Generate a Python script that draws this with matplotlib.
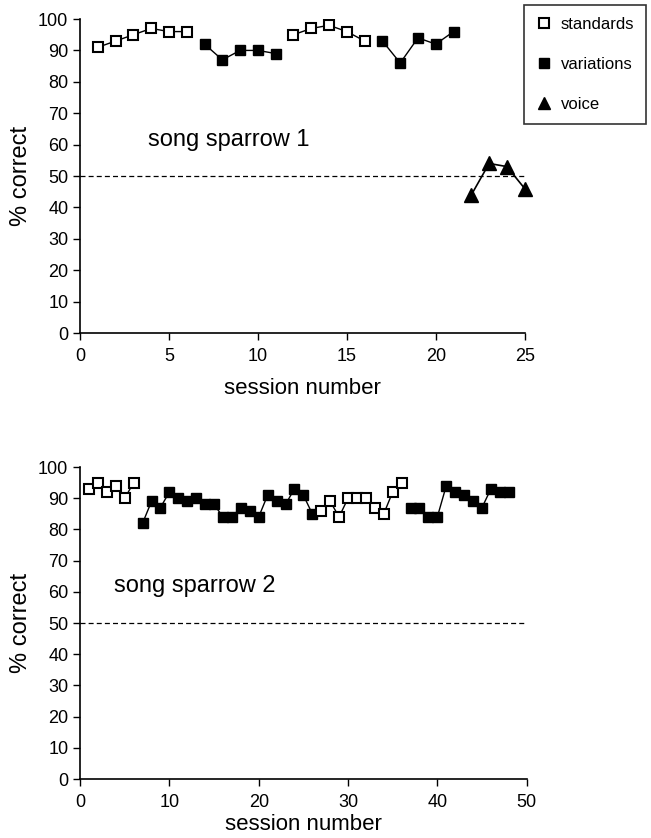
import matplotlib
matplotlib.use("Agg")
import matplotlib.pyplot as plt
from matplotlib.lines import Line2D

plt.rcParams["font.family"] = ["Liberation Sans", "DejaVu Sans"]

# song sparrow 1
s1_std_a_x = [1, 2, 3, 4, 5, 6]
s1_std_a_y = [91, 93, 95, 97, 96, 96]
s1_var_a_x = [7, 8, 9, 10, 11]
s1_var_a_y = [92, 87, 90, 90, 89]
s1_std_b_x = [12, 13, 14, 15, 16]
s1_std_b_y = [95, 97, 98, 96, 93]
s1_var_b_x = [17, 18, 19, 20, 21]
s1_var_b_y = [93, 86, 94, 92, 96]
s1_voice_x = [22, 23, 24, 25]
s1_voice_y = [44, 54, 53, 46]

# song sparrow 2
s2_std_a_x = [1, 2, 3, 4, 5, 6]
s2_std_a_y = [93, 95, 92, 94, 90, 95]
s2_var_a_x = list(range(7, 27))
s2_var_a_y = [82, 89, 87, 92, 90, 89, 90, 88, 88, 84,
              84, 87, 86, 84, 91, 89, 88, 93, 91, 85]
s2_std_b_x = list(range(27, 37))
s2_std_b_y = [86, 89, 84, 90, 90, 90, 87, 85, 92, 95]
s2_var_b_x = list(range(37, 49))
s2_var_b_y = [87, 87, 84, 84, 94, 92, 91, 89, 87, 93, 92, 92]

CHANCE = 50


def std_line(ax, x, y):
    ax.plot(x, y, color="black", lw=1, marker="s", ms=6.5,
            mfc="white", mec="black", mew=1.5, zorder=3)


def var_line(ax, x, y):
    ax.plot(x, y, color="black", lw=1, marker="s", ms=7,
            mfc="black", mec="black", zorder=3)


def style_axes(ax, xmax, xstep, xpad):
    ax.set_xlim(0, xmax)
    ax.set_ylim(0, 100)
    ax.set_xticks(range(0, xmax + 1, xstep))
    ax.set_yticks(range(0, 101, 10))
    for side in ("top", "right"):
        ax.spines[side].set_visible(False)
    ax.spines["left"].set_linewidth(1.2)
    ax.spines["bottom"].set_linewidth(1.2)
    ax.tick_params(direction="out", length=5, width=1, labelsize=13)
    ax.tick_params(axis="x", pad=6)
    ax.set_xlabel("session number", fontsize=16, labelpad=xpad)
    ax.set_ylabel("% correct", fontsize=17, labelpad=4)
    ax.plot([0, xmax], [CHANCE, CHANCE], color="black", lw=0.9,
            ls=(0, (4, 2.5)), zorder=2)


fig = plt.figure(figsize=(6.51, 8.38), dpi=100)
ax1 = fig.add_axes([0.123, 0.6026, 0.683, 0.3747])
ax2 = fig.add_axes([0.123, 0.0704, 0.686, 0.3723])

style_axes(ax1, 25, 5, 9)
std_line(ax1, s1_std_a_x, s1_std_a_y)
var_line(ax1, s1_var_a_x, s1_var_a_y)
std_line(ax1, s1_std_b_x, s1_std_b_y)
var_line(ax1, s1_var_b_x, s1_var_b_y)
ax1.plot(s1_voice_x, s1_voice_y, color="black", lw=1.2, marker="^", ms=10,
         mfc="black", mec="black", zorder=3, clip_on=False)
ax1.text(3.8, 61.5, "song sparrow 1", fontsize=17, va="center", ha="left")

handles = [
    Line2D([], [], ls="none", marker="s", ms=7, mfc="white", mec="black", mew=1.5),
    Line2D([], [], ls="none", marker="s", ms=7, mfc="black", mec="black"),
    Line2D([], [], ls="none", marker="^", ms=9, mfc="black", mec="black"),
]
leg = ax1.legend(handles, ["standards", "variations", "voice"],
                 loc="upper left", bbox_to_anchor=(0.988, 1.06),
                 frameon=True, fancybox=False, edgecolor="black",
                 fontsize=12, handletextpad=0.5, labelspacing=1.5,
                 borderpad=0.7, handlelength=1.0, borderaxespad=0.3)
leg.get_frame().set_linewidth(1.2)

style_axes(ax2, 50, 10, 2)
std_line(ax2, s2_std_a_x, s2_std_a_y)
var_line(ax2, s2_var_a_x, s2_var_a_y)
std_line(ax2, s2_std_b_x, s2_std_b_y)
var_line(ax2, s2_var_b_x, s2_var_b_y)
ax2.text(3.8, 62, "song sparrow 2", fontsize=17, va="center", ha="left")

fig.savefig("out.png", dpi=100)
